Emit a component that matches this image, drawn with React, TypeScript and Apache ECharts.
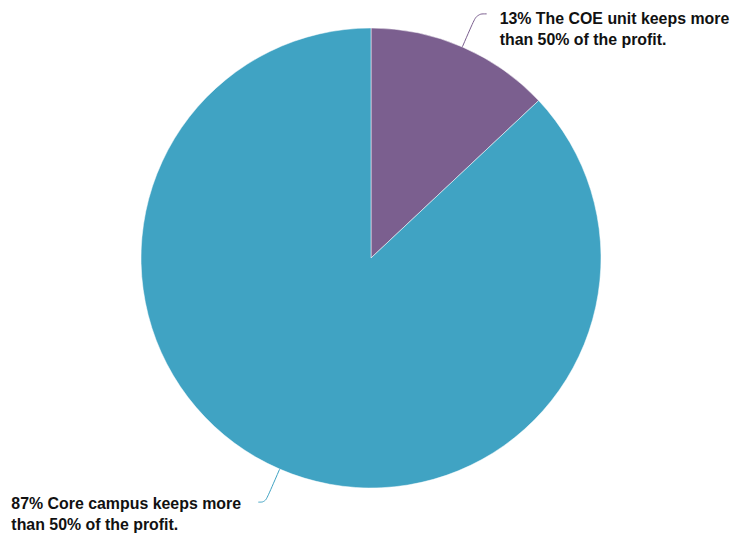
import React, { useEffect, useRef } from "react";
import * as echarts from "echarts";

const categories = [
  "The COE unit keeps more\nthan 50% of the profit.",
  "Core campus keeps more\nthan 50% of the profit.",
];
const values = [13, 87];
const colors = ["#7b5f8f", "#40a3c3"];

export default function App() {
  const ref = useRef<HTMLDivElement>(null);
  useEffect(() => {
    if (!ref.current) return;
    const chart = echarts.init(ref.current, undefined, { renderer: "svg" });
    const labelCfg = [
      { width: 236, padding: [31, 0, 0, 8], length2: 10 },
      { width: 242, padding: [23, 0, 0, 0], length2: 7 },
    ];
    chart.setOption({
      animation: false,
      backgroundColor: "#ffffff",
      series: [
        {
          type: "pie",
          center: [371, 258],
          radius: [0, 230],
          startAngle: 90,
          clockwise: true,
          avoidLabelOverlap: false,
          itemStyle: { borderColor: "#ffffff", borderWidth: 0.5 },
          label: {
            show: true,
            position: "outside",
            formatter: (p: any) => {
              const lines = String(p.name).split("\n");
              lines[0] = `${Math.round(p.percent)}% ` + lines[0];
              return lines.map((l) => `{t|${l}}`).join("\n");
            },
            rich: {
              t: {
                fontFamily: "Liberation Sans, Arial, sans-serif",
                fontWeight: "bold",
                fontSize: 15.9,
                lineHeight: 21,
                color: "#111111",
                align: "left",
              },
            },
          },
          labelLine: { show: true, length: 36, smooth: 0.4, lineStyle: { width: 1 } },
          data: values.map((v, i) => ({
            name: categories[i],
            value: v,
            itemStyle: { color: colors[i] },
            label: { width: labelCfg[i].width, padding: labelCfg[i].padding },
            labelLine: { length2: labelCfg[i].length2, lineStyle: { color: colors[i] } },
          })),
        },
      ],
    });
    return () => chart.dispose();
  }, []);
  return (
    <div
      ref={ref}
      style={{ position: "fixed", left: 0, top: 0, width: 736, height: 533, background: "#fff" }}
    />
  );
}
